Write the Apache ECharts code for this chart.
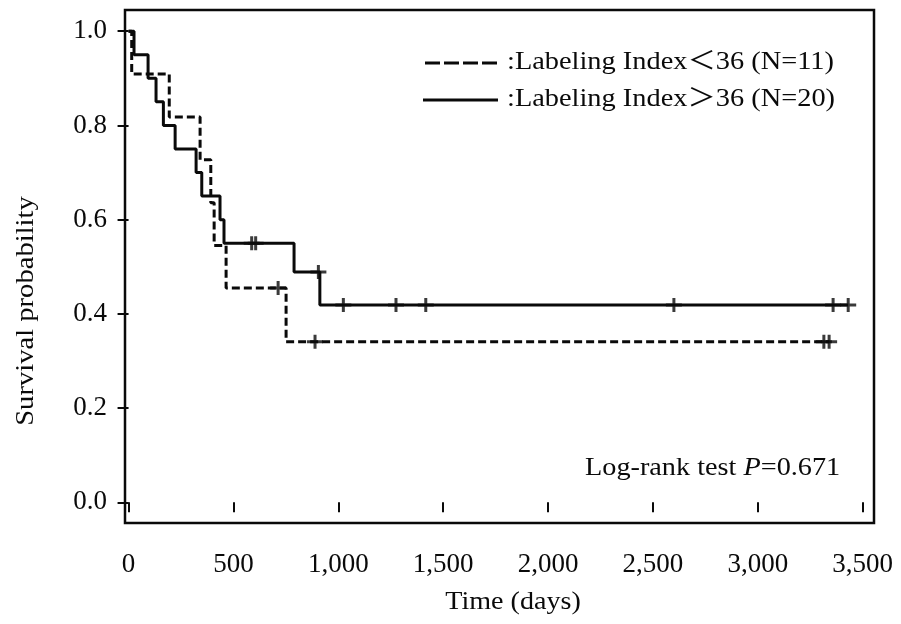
<!DOCTYPE html>
<html><head><meta charset="utf-8">
<script src="https://cdn.jsdelivr.net/npm/echarts@6/dist/echarts.min.js"></script>
<style>html,body{margin:0;padding:0;background:#fff}#c{width:901px;height:624px}</style>
</head><body><div id="c"></div>
<script>
// Tick labels
const xTicks = [0, 500, 1000, 1500, 2000, 2500, 3000, 3500];
const yTicks = [0, 0.2, 0.4, 0.6, 0.8, 1.0];

// Labeling Index < 36 (N=11) : step points (time, survival)
const lowTimes = [0, 15, 194, 341, 392, 408, 465, 751, 3340];
const lowSurv  = [1.0, 0.909, 0.818, 0.727, 0.636, 0.545, 0.455, 0.341, 0.341];
const lowCensorTimes = [713, 889, 3315, 3340];
const lowCensorSurv  = [0.455, 0.341, 0.341, 0.341];

// Labeling Index > 36 (N=20)
const highTimes = [0, 26, 93, 131, 166, 222, 322, 349, 436, 455, 789, 912, 3431];
const highSurv  = [1.0, 0.95, 0.90, 0.85, 0.80, 0.75, 0.70, 0.65, 0.60, 0.55, 0.489, 0.419, 0.419];
const highCensorTimes = [587, 606, 905, 1024, 1275, 1417, 2600, 3359, 3431];
const highCensorSurv  = [0.55, 0.55, 0.489, 0.419, 0.419, 0.419, 0.419, 0.419, 0.419];

const legendLabels = [':Labeling Index\uFF1C36 (N=11)', ':Labeling Index\uFF1E36 (N=20)'];
const annotation = 'Log-rank test {i|P}=0.671';
const xTitle = 'Time (days)';
const yTitle = 'Survival probability';

const FONT = "'Liberation Serif', 'Noto Sans CJK JP', serif";
const INK = '#0a0a0a';
const zip = (a, b) => a.map((v, i) => [v, b[i]]);
const plus = 'path://M6.5,0 L9.5,0 L9.5,5.5 L16,5.5 L16,8.5 L9.5,8.5 L9.5,14 L6.5,14 L6.5,8.5 L0,8.5 L0,5.5 L6.5,5.5 Z';

const chart = echarts.init(document.getElementById('c'), null, {renderer: 'canvas'});
chart.setOption({
  animation: false,
  backgroundColor: '#fff',
  grid: {left: 125, right: 27, top: 10, bottom: 101, show: true, borderColor: INK, borderWidth: 2.5, backgroundColor: 'transparent'},
  xAxis: {
    type: 'value', min: -17, max: 3554,
    axisLine: {show: false}, splitLine: {show: false},
    axisTick: {show: true, length: 10, lineStyle: {color: INK, width: 2}, customValues: xTicks},
    axisLabel: {customValues: xTicks, formatter: v => Number(v).toLocaleString('en-US'), fontSize: 27, fontFamily: FONT, color: INK, margin: 28}
  },
  yAxis: {
    type: 'value', min: -0.044, max: 1.045,
    axisLine: {show: false}, splitLine: {show: false},
    axisTick: {show: true, length: 11, lineStyle: {color: INK, width: 2}, customValues: yTicks},
    axisLabel: {customValues: yTicks, formatter: v => Number(v).toFixed(1), fontSize: 27, fontFamily: FONT, color: INK, margin: 18}
  },
  series: [
    {type: 'line', step: 'end', data: zip(lowTimes, lowSurv), showSymbol: false, silent: true,
     lineStyle: {color: INK, width: 3, type: [8, 4]}},
    {type: 'line', step: 'end', data: zip(highTimes, highSurv), showSymbol: false, silent: true,
     lineStyle: {color: INK, width: 3}},
    {type: 'scatter', data: zip(lowCensorTimes, lowCensorSurv), symbol: plus, symbolSize: [16, 14], silent: true,
     itemStyle: {color: INK}},
    {type: 'scatter', data: zip(highCensorTimes, highCensorSurv), symbol: plus, symbolSize: [16, 14], silent: true,
     itemStyle: {color: INK}}
  ],
  graphic: [
    {type: 'line', shape: {x1: 425, y1: 63, x2: 498, y2: 63}, style: {stroke: INK, lineWidth: 3, lineDash: [15, 4]}},
    {type: 'line', shape: {x1: 423, y1: 100, x2: 498, y2: 100}, style: {stroke: INK, lineWidth: 3}},
    {type: 'text', x: 507, y: 62, scaleX: 1.135, style: {text: legendLabels[0], font: '25px ' + FONT, fill: INK, textAlign: 'left', textVerticalAlign: 'middle'}},
    {type: 'text', x: 507, y: 99, scaleX: 1.135, style: {text: legendLabels[1], font: '25px ' + FONT, fill: INK, textAlign: 'left', textVerticalAlign: 'middle'}},
    {type: 'text', x: 585, y: 468, scaleX: 1.13, style: {text: annotation, font: '25px ' + FONT, fill: INK, textAlign: 'left', textVerticalAlign: 'middle',
      rich: {i: {fontStyle: 'italic', fontSize: 25, fontFamily: FONT, fill: INK}}}},
    {type: 'text', x: 513, y: 602, scaleX: 1.08, style: {text: xTitle, font: '26px ' + FONT, fill: INK, textAlign: 'center', textVerticalAlign: 'middle'}},
    {type: 'text', x: 26, y: 311, rotation: Math.PI / 2, scaleX: 1.1, style: {text: yTitle, font: '26px ' + FONT, fill: INK, textAlign: 'center', textVerticalAlign: 'middle'}}
  ]
});
</script>
</body></html>
